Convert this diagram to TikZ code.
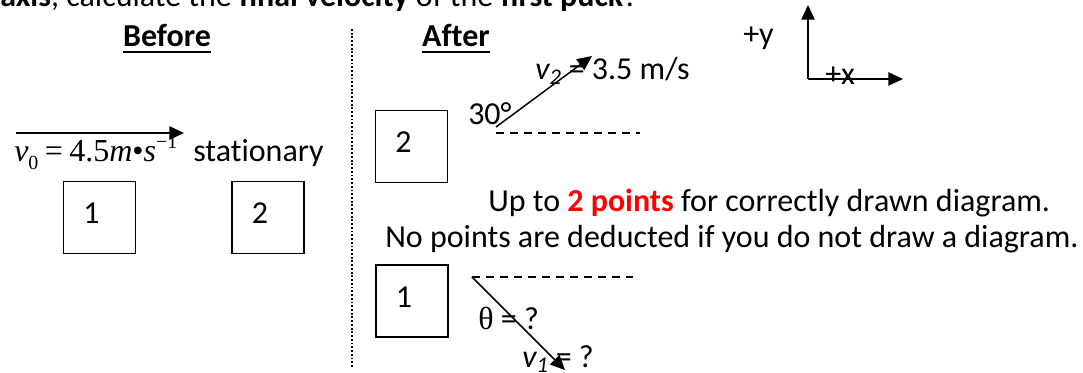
\documentclass[tikz,border=0pt]{standalone}
\usepackage{fontspec}
\setmainfont{Carlito}[Ligatures=NoCommon]
\newfontfamily\tmsfont{Liberation Serif}
\usetikzlibrary{positioning,calc,arrows.meta}

\tikzset{
  txt/.style={inner sep=0pt, font=\fontsize{24}{29}\selectfont},
  head/.style={inner sep=0pt, font=\fontsize{24}{29}\selectfont\bfseries},
  puck/.style={draw, line width=1.2pt, minimum size=54pt, inner sep=0pt},
  vec/.style={-{Triangle[length=11pt,width=10pt]}, line width=1.1pt},
  refline/.style={dash pattern=on 6pt off 4.5pt, line width=0.9pt},
  divider/.style={dash pattern=on 1.4pt off 1.4pt, line width=1.5pt},
}

\begin{document}
\begin{tikzpicture}[x=0.75pt,y=-0.75pt]
\useasboundingbox (0,0) rectangle (1083,373);
\clip (0,0) rectangle (1083,373);

% question, cut off at the top
\node[txt, anchor=base west] (quest) at (0,7) {\textbf{axis}, calculate the \textbf{final velocity} of the \textbf{first puck}?};

% headings
\node[head, anchor=base] (bef) at (167,47) {Before};
\node[head, anchor=base] (aft) at (456,47) {After};
\foreach \h in {bef,aft}
	\draw[line width=1.5pt] ([yshift=-4pt]\h.base west) -- ([yshift=-4pt]\h.base east);

% divider
\coordinate (dtop) at (352,29);
\coordinate (dbot) at (352,368);
\draw[divider] (dtop) -- (dbot);

% pucks
\foreach \n/\x/\y/\t in {b1/99.5/217.5/1, b2/268/217.5/2, a2/411.5/146.5/2, a1/412/301/1}
	\node[puck, label={[txt, shift={(-6pt,3pt)}]center:\t}] (\n) at (\x,\y) {};

% before
\coordinate (v0s) at (16,133);
\coordinate (v0e) at (184,133);
\draw[vec] (v0s) -- (v0e);
\node[inner sep=0pt, anchor=base west, font=\tmsfont\fontsize{24}{28}\selectfont] (v0) at (14,162)
	{\textit{v}\raisebox{-0.22em}{\fontsize{15}{15}\selectfont 0}\hspace{0.2em}=\hspace{0.2em}4.5\textit{m}•\textit{s}\raisebox{0.42em}{\fontsize{15}{15}\selectfont −1}};
\node[txt, anchor=base west] (stat) at (193,162) {stationary};

% after: puck 2
\coordinate (v2s) at (496,127);
\coordinate (v2e) at (592,56);
\coordinate (h2s) at (496,133);
\coordinate (h2e) at (640,133);
\draw[refline] (h2s) -- (h2e);
\draw[vec] (v2s) -- (v2e);
\node[txt, anchor=base west] (ang2) at (468,125) {30°};
\node[txt, anchor=base west] (v2) at (535,80) {\textit{v\textsubscript{2}} = 3.5 m/s};

% after: puck 1
\coordinate (v1s) at (472,277);
\coordinate (h1e) at (633,277);
\coordinate (v1e) at (565,370);
\draw[refline] (v1s) -- (h1e);
\draw[vec] (v1s) -- (v1e);
\node[txt, anchor=base west] (ang1) at (478,330) {{\tmsfont θ} = ?};
\node[txt, anchor=base west] (v1) at (522,368) {\textit{v\textsubscript{1}} = ?};

% marking note
\node[txt, anchor=base west] (note1) at (488,212) {Up to \textcolor{red}{\textbf{2 points}} for correctly drawn diagram.};
\node[txt, anchor=base west] (note2) at (385,248) {No points are deducted if you do not draw a diagram.};

% axes
\coordinate (o) at (808,79);
\coordinate (ytip) at (808,5);
\coordinate (xtip) at (903,79);
\draw[vec] (o) -- (ytip);
\draw[vec] (o) -- (xtip);
\node[txt, anchor=base west] (ylab) at (743,45) {+y};
\node[txt, anchor=base west] (xlab) at (825,85) {+x};

\end{tikzpicture}
\end{document}
